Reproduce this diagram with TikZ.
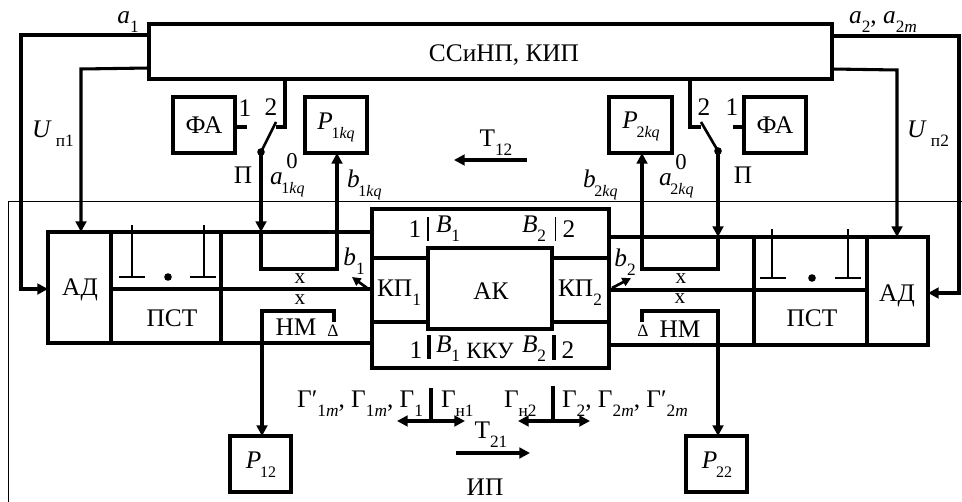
\documentclass[tikz,border=0pt]{standalone}
\usepackage{fontspec}
\setmainfont{Liberation Serif}
\usetikzlibrary{arrows.meta}
\newcommand{\dn}[1]{\raisebox{-0.36em}{\fontsize{13}{13}\selectfont #1}}
\newcommand{\dns}[1]{\kern-0.05em\raisebox{-0.36em}{\fontsize{12}{12}\selectfont #1}}
\newcommand{\itl}[1]{\textit{#1}}
\newcommand{\upz}[1]{\rlap{\raisebox{0.62em}{\fontsize{17}{17}\selectfont #1}}}
\tikzset{
  x=0.75pt,y=-0.75pt,
  wire/.style={line width=2.3pt,line cap=butt,line join=miter},
  thin wire/.style={line width=0.75pt},
  arr/.style={wire,-{Triangle[length=8pt,width=8pt]}},
  arrs/.style={line width=2pt,-{Triangle[length=6.5pt,width=6.5pt]}},
  darr/.style={wire,{Triangle[length=8pt,width=8pt]}-{Triangle[length=8pt,width=8pt]}},
  bxs/.style={draw,line width=2.3pt,inner sep=0pt,outer sep=0pt,fill=white},
  txt/.style={inner sep=0pt,outer sep=0pt,font=\fontsize{19}{19}\selectfont}
}
\newcommand{\bx}[5]{\node[bxs,minimum width={(#4-#2)*0.75pt},minimum height={(#5-#3)*0.75pt}] (#1) at ({(#2+#4)/2},{(#3+#5)/2}) {};}
\begin{document}
\begin{tikzpicture}
\useasboundingbox (0,0) rectangle (962,502);
% enclosing thin frame
\coordinate (fa) at (8,502); \coordinate (fb) at (8,202); \coordinate (fc) at (962,202);
\draw[thin wire] (fa) -- (fb) -- (fc);
% boxes
\bx{top}{149}{24}{832}{79}
\bx{faL}{173}{97}{235}{153}
\bx{faR}{744}{97}{806}{153}
\bx{pL}{305}{97}{367}{153}
\bx{pR}{609}{97}{672}{153}
\bx{adL}{48}{232}{111}{343}
\bx{pstL}{111}{232}{221}{343}
\bx{adR}{867}{237}{928}{345}
\bx{pstR}{754}{237}{867}{345}
\bx{ku}{372}{209}{609}{368}
\bx{kpL}{372}{258}{428}{322}
\bx{kpR}{552}{258}{609}{322}
\bx{ak}{428}{248}{552}{329}
\bx{pA}{230}{436}{291}{492}
\bx{pB}{686}{436}{747}{492}
% horizontal wires between PST and the central unit
\draw[wire] (pstL.east |- 0,232) -- (ku.west |- 0,232);
\draw[wire] (pstL.east |- 0,343) -- (ku.west |- 0,343);
\draw[wire] (adL.east |- 0,289) -- (ku.west |- 0,289);
\draw[wire] (ku.east |- 0,237) -- (pstR.west |- 0,237);
\draw[wire] (ku.east |- 0,345) -- (pstR.west |- 0,345);
\draw[wire] (ku.east |- 0,290) -- (adR.west |- 0,290);
% supply and signal lines
\draw[arr] (top.west |- 0,35) -| (21,289) -- (adL.west |- 0,289);
\draw[arr] (top.west |- 0,68) -- (81,69) -- (adL.north -| 81,0);
\draw[arr] (top.east |- 0,36) -- (959,36) |- (adR.east |- 0,293);
\draw[arr] (top.east |- 0,69) -- (897,70) -- (adR.north -| 897,0);
% switch and receiver paths, left
\coordinate (swLa) at (276,127); \coordinate (swLb) at (261,152); \coordinate (swLc) at (276,122);
\draw[wire] (top.south -| 285,0) |- (swLa);
\draw[line width=2pt] (swLc) -- (swLb);
\fill (swLb) circle (3.8);
\draw[arr] (swLb) -- (261,232);
\draw[arr] (261,232) |- (337,269) -- (pL.south -| 337,0);
\coordinate (faLw) at (247,127);
\draw[wire] (faL.east |- faLw) -- (faLw);
% switch and receiver paths, right
\coordinate (swRa) at (701,127); \coordinate (swRb) at (718,151); \coordinate (swRc) at (701,122);
\draw[wire] (top.south -| 690,0) |- (swRa);
\draw[line width=2pt] (swRc) -- (swRb);
\fill (swRb) circle (3.8);
\draw[arr] (swRb) -- (718,237);
\draw[arr] (718,237) |- (642,269) -- (pR.south -| 642,0);
\coordinate (faRw) at (733,127);
\draw[wire] (faR.west |- faRw) -- (faRw);
% T bars
\coordinate (t1) at (132,225); \coordinate (t2) at (204,225);
\coordinate (t3) at (772,229); \coordinate (t4) at (848,229);
\draw[line width=2.1pt] (t1) -- (132,277) (119,277) -- (145,277);
\draw[line width=2.1pt] (t2) -- (204,277) (190,277) -- (216,277);
\draw[line width=2.1pt] (t3) -- (772,278) (760,278) -- (786,278);
\draw[line width=2.1pt] (t4) -- (848,278) (835,278) -- (861,278);
\fill (168,277) circle (3.8);
\fill (812,278) circle (3.8);
% matched loads
\draw[arr] (334,322) |- (262,311) -- (pA.north -| 262,0);
\draw[arr] (642,322) |- (718,311) -- (pB.north -| 718,0);
% small arrows
\draw[arrs] (367,288) -- (352,277);
\draw[arrs] (612,288) -- (631,278);
% dividers
\draw[line width=2.2pt] (428,217) -- (428,241);
\draw[line width=0.75pt] (555,217) -- (555,241);
\draw[line width=2.4pt] (429,335) -- (429,359);
\draw[line width=2.4pt] (554,335) -- (554,360);
% bottom double arrows and T arrows
\draw[darr] (397,421) -- (465,421);
\draw[darr] (518,421) -- (590,421);
\draw[wire] (431,388) -- (431,421);
\draw[wire] (553,386) -- (553,421);
\draw[arr] (527,160) -- (454,160);
\draw[arr] (456,453) -- (530,453);
% texts
\node[txt] (t0) at (504,55) {ССиНП, КИП};
\node[txt] at (faL) {ФА};
\node[txt] at (faR) {ФА};
\node[txt] at (336,127) {\itl{P}\dns{1\itl{kq}}};
\node[txt] at (641,126) {\itl{P}\dns{2\itl{kq}}};
\node[txt] at (80,290) {АД};
\node[txt] at (897,296) {АД};
\node[txt] at (172,318) {ПСТ};
\node[txt] at (812,318) {ПСТ};
\node[txt] at (491,291) {АК};
\node[txt] at (399,293) {КП\dn{1}};
\node[txt] at (580,293) {КП\dn{2}};
\node[txt] at (261,465) {\itl{P}\dns{12}};
\node[txt] at (717,465) {\itl{P}\dns{22}};
\node[txt] at (128,22) {\itl{a}\dn{1}};
\node[txt] at (883,22) {\itl{a}\dn{2}, \itl{a}\dn{2\itl{m}}};
\node[txt] at (53,134) {\itl{U}\,\dn{п1}};
\node[txt] at (928,134) {\itl{U}\,\dn{п2}};
\node[txt] at (245,108) {1};
\node[txt] at (271,107) {2};
\node[txt] at (704,107) {2};
\node[txt] at (732,107) {1};
\node[txt] at (243,175) {П};
\node[txt] at (743,175) {П};
\node[txt,anchor=west] at (270,175) {\itl{a}\upz{\,0}\dns{1\itl{kq}}};
\node[txt,anchor=west] at (659,176) {\itl{a}\upz{\,0}\dns{2\itl{kq}}};
\node[txt,anchor=west] at (347,185) {\itl{b}\dns{1\itl{kq}}};
\node[txt,anchor=west] at (583,185) {\itl{b}\dns{2\itl{kq}}};
\node[txt] at (496,143) {Т\dn{12}};
\node[txt] at (491,435) {Т\dn{21}};
\node[txt] at (485,487) {ИП};
\node[txt] at (354,261) {\itl{b}\dn{1}};
\node[txt] at (625,262) {\itl{b}\dn{2}};
\node[txt,font=\fontsize{16}{16}\selectfont] at (300,279) {x};
\node[txt,font=\fontsize{16}{16}\selectfont] at (300,300) {x};
\node[txt,font=\fontsize{16}{16}\selectfont] at (681,279) {x};
\node[txt,font=\fontsize{16}{16}\selectfont] at (680,299) {x};
\node[txt] at (296,327) {НМ};
\node[txt] at (680,329) {НМ};
\node[txt,font=\fontsize{13}{13}\selectfont] at (333,331) {Δ};
\node[txt,font=\fontsize{13}{13}\selectfont] at (643,331) {Δ};
\node[txt] at (415,229) {1};
\node[txt,anchor=west] at (436,229) {\itl{B}\dn{1}};
\node[txt,anchor=west] at (522,229) {\itl{B}\dn{2}};
\node[txt] at (569,229) {2};
\node[txt] at (416,350) {1};
\node[txt,anchor=west] at (436,349) {\itl{B}\dn{1}};
\node[txt,font=\fontsize{17.5}{17.5}\selectfont] at (490,351) {ККУ};
\node[txt,anchor=west] at (522,349) {\itl{B}\dn{2}};
\node[txt] at (568,350) {2};
\node[txt,anchor=east] at (423,404) {Г′\dn{1\itl{m}}, Г\dn{1\itl{m}}, Г\dn{1}};
\node[txt,anchor=west] at (441,404) {Г\dn{н1}};
\node[txt,anchor=west] at (504,404) {Г\dn{н2}};
\node[txt,anchor=west] at (562,404) {Г\dn{2}, Г\dn{2\itl{m}}, Г′\dn{2\itl{m}}};
\end{tikzpicture}
\end{document}
